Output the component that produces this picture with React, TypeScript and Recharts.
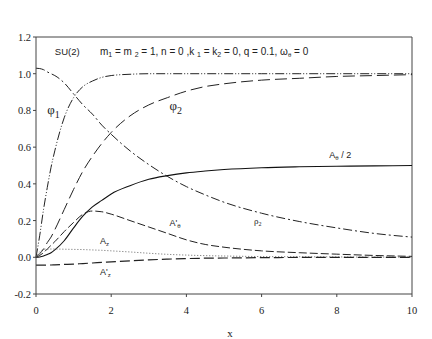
import { LineChart, Line, XAxis, YAxis, ReferenceLine, ReferenceDot } from "recharts";

const xs = [0, 0.1, 0.2, 0.3, 0.4, 0.5, 0.75, 1, 1.25, 1.5, 1.75, 2, 2.5, 3, 3.5, 4, 4.5, 5, 6, 7, 8, 9, 10];
const phi1 = [0, 0.12, 0.26, 0.38, 0.49, 0.58, 0.76, 0.87, 0.93, 0.96, 0.98, 0.99, 0.997, 1, 1, 1, 1, 1, 1, 1, 1, 1, 1];
const phi2 = [0, 0.02, 0.045, 0.08, 0.11, 0.15, 0.26, 0.37, 0.47, 0.55, 0.62, 0.68, 0.77, 0.83, 0.87, 0.905, 0.93, 0.945, 0.965, 0.975, 0.985, 0.99, 0.995];
const rho2 = [1.03, 1.028, 1.022, 1.01, 1.0, 0.99, 0.95, 0.89, 0.83, 0.78, 0.72, 0.67, 0.58, 0.505, 0.44, 0.385, 0.34, 0.3, 0.24, 0.195, 0.16, 0.13, 0.11];
const aTheta = [0, 0.002, 0.007, 0.015, 0.025, 0.04, 0.09, 0.16, 0.225, 0.275, 0.31, 0.345, 0.39, 0.425, 0.445, 0.46, 0.47, 0.478, 0.488, 0.493, 0.496, 0.498, 0.5];
const aThetaP = [0, 0.01, 0.025, 0.045, 0.065, 0.085, 0.14, 0.19, 0.235, 0.252, 0.248, 0.235, 0.2, 0.165, 0.13, 0.095, 0.07, 0.055, 0.035, 0.025, 0.017, 0.01, 0.005];
const az = [0, 0.03, 0.042, 0.045, 0.045, 0.045, 0.044, 0.043, 0.042, 0.04, 0.038, 0.035, 0.029, 0.022, 0.016, 0.012, 0.009, 0.007, 0.004, 0.003, 0.002, 0.001, 0.001];
const azP = [-0.043, -0.043, -0.043, -0.042, -0.042, -0.041, -0.039, -0.037, -0.034, -0.031, -0.028, -0.025, -0.019, -0.014, -0.01, -0.007, -0.005, -0.004, -0.002, -0.001, -0.001, 0, 0];

const xTicks = [0, 2, 4, 6, 8, 10];
const yTicks = [-0.2, 0, 0.2, 0.4, 0.6, 0.8, 1.0, 1.2];

const data = xs.map((x, i) => ({
  x,
  phi1: phi1[i],
  phi2: phi2[i],
  rho2: rho2[i],
  aTheta: aTheta[i],
  aThetaP: aThetaP[i],
  az: az[i],
  azP: azP[i],
}));

const serif = "Liberation Serif, Times New Roman, serif";
const sans = "Liberation Sans, Arial, sans-serif";

// text annotation anchored at a data point
function Note({ x, y, children }: { x: number; y: number; children: any }) {
  return (
    <ReferenceDot
      x={x}
      y={y}
      r={0}
      isFront
      shape={(p: any) => (
        <text x={p.cx} y={p.cy} fill="#222">
          {children}
        </text>
      )}
    />
  );
}

function XTick({ x, y, payload }: any) {
  return (
    <text x={x} y={y + 15} textAnchor="middle" fontFamily={serif} fontSize={10.5} fill="#222">
      {payload.value}
    </text>
  );
}

function YTick({ x, y, payload }: any) {
  return (
    <text x={x} y={y + 4} textAnchor="end" fontFamily={serif} fontSize={10.5} fill="#222">
      {Number(payload.value).toFixed(1)}
    </text>
  );
}

export default function App() {
  return (
    <div style={{ position: "absolute", left: 0, top: 0, background: "#fff", fontFamily: serif }}>
      <LineChart width={432} height={339} data={data} margin={{ top: 37, right: 20, bottom: 15, left: 0 }}>
        <XAxis
          dataKey="x"
          type="number"
          domain={[0, 10]}
          ticks={xTicks}
          stroke="#444"
          tickSize={3}
          tick={<XTick />}
          label={{ value: "x", position: "insideBottom", offset: -13, dx: 6, style: { fontSize: 11, fill: "#222" } }}
        />
        <YAxis
          type="number"
          domain={[-0.2, 1.2]}
          ticks={yTicks}
          width={36}
          stroke="#444"
          tickSize={3}
          tick={<YTick />}
        />
        <ReferenceLine y={1.2} stroke="#444" />
        <ReferenceLine x={10} stroke="#444" />
        <Line dataKey="phi1" type="monotone" stroke="#222" strokeWidth={1} strokeDasharray="9 2 1 2 1 2" dot={false} isAnimationActive={false} />
        <Line dataKey="phi2" type="monotone" stroke="#222" strokeWidth={1} strokeDasharray="12 5" dot={false} isAnimationActive={false} />
        <Line dataKey="rho2" type="monotone" stroke="#222" strokeWidth={1} strokeDasharray="9 3 2 3" dot={false} isAnimationActive={false} />
        <Line dataKey="aTheta" type="monotone" stroke="#111" strokeWidth={1.1} dot={false} isAnimationActive={false} />
        <Line dataKey="aThetaP" type="monotone" stroke="#222" strokeWidth={1} strokeDasharray="8 3" dot={false} isAnimationActive={false} />
        <Line dataKey="az" type="monotone" stroke="#666" strokeWidth={1} strokeDasharray="1 2" dot={false} isAnimationActive={false} />
        <Line dataKey="azP" type="monotone" stroke="#222" strokeWidth={1.2} strokeDasharray="10 4" dot={false} isAnimationActive={false} />
        <Note x={0.5} y={1.1}>
          <tspan fontFamily={sans} fontSize={9.5}>SU(2)</tspan>
        </Note>
        <Note x={1.7} y={1.1}>
          <tspan fontFamily={sans} fontSize={10}>m</tspan>
          <tspan fontFamily={sans} fontSize={7} dy={2}>1</tspan>
          <tspan fontFamily={sans} fontSize={10} dy={-2}> = m </tspan>
          <tspan fontFamily={sans} fontSize={7} dy={2}>2</tspan>
          <tspan fontFamily={sans} fontSize={10} dy={-2}> = 1, n = 0 ,k   </tspan>
          <tspan fontFamily={sans} fontSize={7} dy={2}>1</tspan>
          <tspan fontFamily={sans} fontSize={10} dy={-2}> = k</tspan>
          <tspan fontFamily={sans} fontSize={7} dy={2}>2</tspan>
          <tspan fontFamily={sans} fontSize={10} dy={-2}> = 0, q = 0.1,     ω</tspan>
          <tspan fontFamily={sans} fontSize={6} dy={2}>θ</tspan>
          <tspan fontFamily={sans} fontSize={10} dy={-2}> = 0</tspan>
        </Note>
        <Note x={0.3} y={0.78}>
          <tspan fontFamily={serif} fontSize={13}>φ</tspan>
          <tspan fontFamily={serif} fontSize={10} dy={4}>1</tspan>
        </Note>
        <Note x={3.55} y={0.8}>
          <tspan fontFamily={serif} fontSize={13}>φ</tspan>
          <tspan fontFamily={serif} fontSize={10} dy={4}>2</tspan>
        </Note>
        <Note x={7.8} y={0.54}>
          <tspan fontFamily={sans} fontSize={9}>A</tspan>
          <tspan fontFamily={sans} fontSize={6} dy={2}>θ</tspan>
          <tspan fontFamily={sans} fontSize={9} dy={-2}> / 2</tspan>
        </Note>
        <Note x={3.55} y={0.17}>
          <tspan fontFamily={sans} fontSize={9}>A'</tspan>
          <tspan fontFamily={sans} fontSize={6} dy={2}>θ</tspan>
        </Note>
        <Note x={5.8} y={0.18}>
          <tspan fontFamily={serif} fontSize={9}>ρ</tspan>
          <tspan fontFamily={serif} fontSize={6} dy={2}>2</tspan>
        </Note>
        <Note x={1.7} y={0.07}>
          <tspan fontFamily={sans} fontSize={9}>A</tspan>
          <tspan fontFamily={sans} fontSize={6} dy={2}>z</tspan>
        </Note>
        <Note x={1.7} y={-0.095}>
          <tspan fontFamily={sans} fontSize={9}>A'</tspan>
          <tspan fontFamily={sans} fontSize={6} dy={2}>z</tspan>
        </Note>
      </LineChart>
    </div>
  );
}
